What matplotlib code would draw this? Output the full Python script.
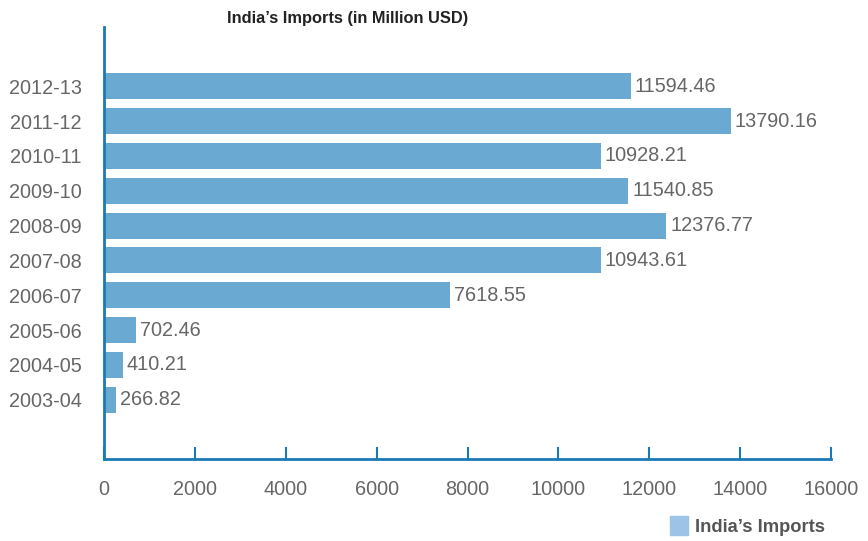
import matplotlib.pyplot as plt
from matplotlib.patches import Rectangle

years = ['2003-04', '2004-05', '2005-06', '2006-07', '2007-08',
         '2008-09', '2009-10', '2010-11', '2011-12', '2012-13']
imports = [266.82, 410.21, 702.46, 7618.55, 10943.61,
           12376.77, 11540.85, 10928.21, 13790.16, 11594.46]
xticks = [0, 2000, 4000, 6000, 8000, 10000, 12000, 14000, 16000]

plt.rcParams['font.family'] = ['Liberation Sans', 'DejaVu Sans']
axis_col = '#1a7ab5'
text_col = '#666666'

fig = plt.figure(figsize=(8.68, 5.41), dpi=100)
ax = fig.add_axes([104 / 868, 1 - 459 / 541, (831 - 104) / 868, (459 - 27) / 541])

pos = list(range(len(years)))
ax.barh(pos, imports, height=0.75, color='#6aaad2')
for p, v in zip(pos, imports):
    ax.text(v + 80, p, f'{v:.2f}', va='center', ha='left',
            fontsize=14.3, color=text_col)

ax.set_xlim(0, 16000)
ax.set_ylim(-1.7, 10.7)
ax.set_yticks(pos)
ax.set_yticklabels(years)
ax.set_xticks(xticks)
ax.set_xticklabels([str(t) for t in xticks])

for s in ['top', 'right']:
    ax.spines[s].set_visible(False)
for s in ['left', 'bottom']:
    ax.spines[s].set_color(axis_col)
    ax.spines[s].set_linewidth(2)

ax.tick_params(axis='x', direction='in', length=9, width=1.5, color=axis_col,
               labelsize=14.3, labelcolor=text_col, pad=15)
ax.tick_params(axis='y', length=0, labelsize=14.3, labelcolor=text_col, pad=16)

# 제목
fig.text(348 / 868, 1 - 19 / 541, 'India\u2019s Imports (in Million USD)',
         ha='center', va='center', fontsize=11.8, fontweight='bold', color='#222222')

# 범례
fig.patches.append(Rectangle((670 / 868, 1 - 535 / 541), 18 / 868, 19 / 541,
                             transform=fig.transFigure, color='#9dc3e6'))
fig.text(695 / 868, 1 - 527 / 541, 'India\u2019s Imports', ha='left', va='center',
         fontsize=13.2, fontweight='bold', color='#555555')

fig.savefig('out.png', dpi=100)
